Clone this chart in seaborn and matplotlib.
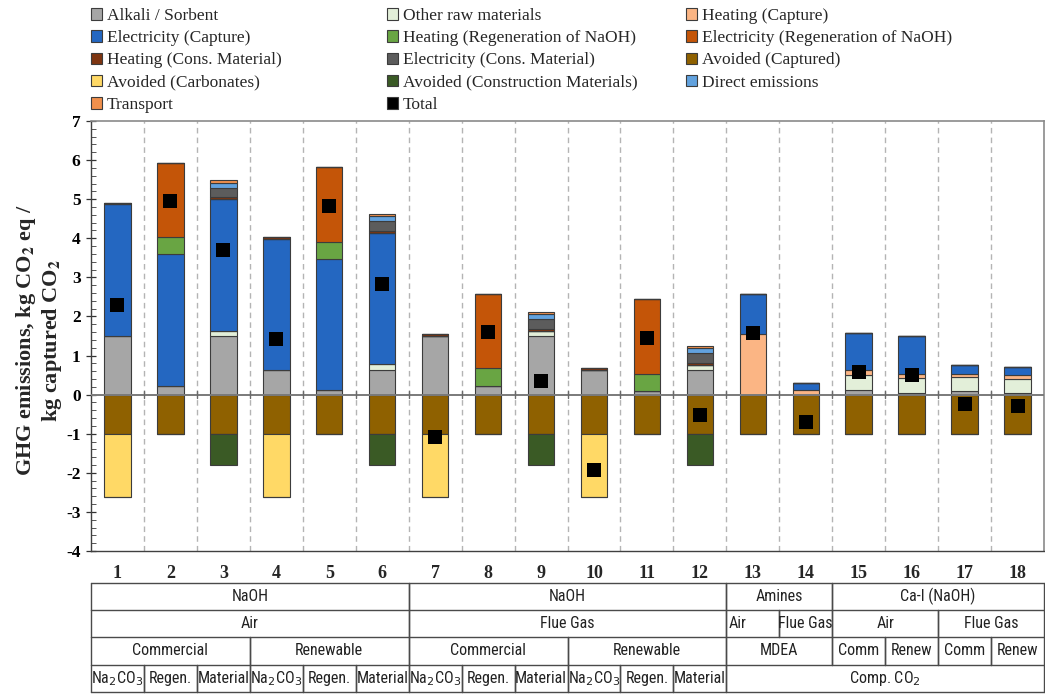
import matplotlib
matplotlib.use("Agg")
import matplotlib.pyplot as plt
import matplotlib.font_manager as fm
import seaborn as sns
from matplotlib.patches import Patch

# ---- data -----------------------------------------------------------------
scenarios = [str(i) for i in range(1, 19)]

alkali_sorbent   = [1.49, 0.22, 1.49, 0.62, 0.11, 0.62, 1.50, 0.23, 1.50, 0.63, 0.09, 0.62, 0.00, 0.00, 0.13, 0.04, 0.09, 0.04]
other_raw        = [0.00, 0.00, 0.15, 0.00, 0.00, 0.16, 0.00, 0.00, 0.14, 0.00, 0.00, 0.15, 0.00, 0.00, 0.38, 0.39, 0.35, 0.36]
heating_capture  = [0.00, 0.00, 0.00, 0.00, 0.00, 0.00, 0.00, 0.00, 0.00, 0.00, 0.00, 0.00, 1.56, 0.11, 0.11, 0.11, 0.10, 0.09]
elec_capture     = [3.38, 3.39, 3.36, 3.37, 3.35, 3.35, 0.00, 0.00, 0.00, 0.00, 0.00, 0.00, 1.01, 0.20, 0.96, 0.95, 0.22, 0.22]
heating_regen    = [0.00, 0.42, 0.00, 0.00, 0.44, 0.00, 0.00, 0.44, 0.00, 0.00, 0.45, 0.00, 0.00, 0.00, 0.00, 0.00, 0.00, 0.00]
elec_regen       = [0.00, 1.90, 0.00, 0.00, 1.92, 0.00, 0.00, 1.91, 0.00, 0.00, 1.90, 0.00, 0.00, 0.00, 0.00, 0.00, 0.00, 0.00]
heating_cons     = [0.04, 0.00, 0.05, 0.04, 0.00, 0.05, 0.04, 0.00, 0.05, 0.04, 0.00, 0.05, 0.00, 0.00, 0.00, 0.00, 0.00, 0.00]
elec_cons        = [0.00, 0.00, 0.24, 0.00, 0.00, 0.25, 0.00, 0.00, 0.24, 0.00, 0.00, 0.24, 0.00, 0.00, 0.00, 0.00, 0.00, 0.00]
direct_emissions = [0.00, 0.00, 0.13, 0.00, 0.00, 0.13, 0.00, 0.00, 0.13, 0.00, 0.00, 0.13, 0.00, 0.00, 0.00, 0.00, 0.00, 0.00]
transport        = [0.00, 0.00, 0.06, 0.00, 0.00, 0.06, 0.00, 0.00, 0.05, 0.00, 0.00, 0.05, 0.00, 0.00, 0.00, 0.00, 0.00, 0.00]

avoided_captured     = [-1.00] * 18
avoided_carbonates   = [-1.62, 0, 0, -1.62, 0, 0, -1.62, 0, 0, -1.62, 0, 0, 0, 0, 0, 0, 0, 0]
avoided_construction = [0, 0, -0.79, 0, 0, -0.79, 0, 0, -0.79, 0, 0, -0.79, 0, 0, 0, 0, 0, 0]

total = [2.30, 4.95, 3.70, 1.43, 4.82, 2.84, -1.08, 1.59, 0.34, -1.94, 1.46, -0.53, 1.58, -0.69, 0.58, 0.50, -0.24, -0.29]

# table rows under the chart: (first, last+1, text)
row_process  = [(0, 6, "NaOH"), (6, 12, "NaOH"), (12, 14, "Amines"), (14, 18, "Ca-I (NaOH)")]
row_source   = [(0, 6, "Air"), (6, 12, "Flue Gas"), (12, 13, "Air"), (13, 14, "Flue Gas"),
                (14, 16, "Air"), (16, 18, "Flue Gas")]
row_energy   = [(0, 3, "Commercial"), (3, 6, "Renewable"), (6, 9, "Commercial"), (9, 12, "Renewable"),
                (12, 14, "MDEA"), (14, 15, "Comm"), (15, 16, "Renew"), (16, 17, "Comm"), (17, 18, "Renew")]
product_names = ["Na$_2$CO$_3$", "Regen.", "Material"]
row_product  = [(g * 3 + k, g * 3 + k + 1, product_names[k]) for g in range(4) for k in range(3)] \
               + [(12, 18, "Comp. CO$_2$")]

# ---- styling ----------------------------------------------------------------
sns.set_style("ticks")
plt.rcParams["font.family"] = ["Liberation Serif", "DejaVu Serif"]
plt.rcParams["mathtext.fontset"] = "stix"
plt.rcParams["axes.unicode_minus"] = False


def narrow_sans():
    """Pick a condensed sans-serif face for the table, if one is installed."""
    best = None
    for f in fm.fontManager.ttflist:
        name = f.name.lower()
        narrow = ("narrow" in name or "condensed" in name
                  or str(f.stretch).lower() in ("condensed", "semi-condensed", "extra-condensed"))
        if narrow and "serif" not in name.replace("sans", "") and f.weight in (400, "normal", "regular") \
                and f.style == "normal":
            score = 0 if "liberation" in name else (1 if "roboto" in name else 2)
            if best is None or score < best[0]:
                best = (score, f.fname)
    if best:
        return fm.FontProperties(fname=best[1], size=11.5), True
    return fm.FontProperties(family=["Liberation Sans"], size=10), False


table_font, is_narrow = narrow_sans()

positive_layers = [
    ("Alkali / Sorbent", alkali_sorbent, "#a6a6a6"),
    ("Other raw materials", other_raw, "#e3efd9"),
    ("Heating (Capture)", heating_capture, "#fbb584"),
    ("Electricity (Capture)", elec_capture, "#2467c1"),
    ("Heating (Regeneration of NaOH)", heating_regen, "#69a543"),
    ("Electricity (Regeneration of NaOH)", elec_regen, "#c45508"),
    ("Heating (Cons. Material)", heating_cons, "#7e3511"),
    ("Electricity (Cons. Material)", elec_cons, "#5c5c5c"),
    ("Direct emissions", direct_emissions, "#62a2de"),
    ("Transport", transport, "#f0904c"),
]
negative_layers = [
    ("Avoided (Captured)", avoided_captured, "#8f6100"),
    ("Avoided (Carbonates)", avoided_carbonates, "#ffd966"),
    ("Avoided (Construction Materials)", avoided_construction, "#3a5a25"),
]
colors = {name: c for name, _, c in positive_layers + negative_layers}

fig = plt.figure(figsize=(10.45, 6.94), dpi=100)
W, H = 1045, 694
ax = fig.add_axes([91 / W, 1 - 551 / H, 953 / W, 430 / H])

# separators between scenarios
for b in range(17):
    ax.axvline(b + 0.5, color="#b4b4b4", lw=1.0, ls=(0, (4, 3)), zorder=0)

edge = dict(edgecolor="#3c3c3c", linewidth=0.8)


def stack(layers):
    base = [0.0] * 18
    for name, vals, col in layers:
        sns.barplot(x=scenarios, y=vals, bottom=base, order=scenarios, color=col,
                    saturation=1, width=0.5, errorbar=None, ax=ax, zorder=2, **edge)
        base = [b + v for b, v in zip(base, vals)]


stack(positive_layers)
stack(negative_layers)

ax.axhline(0, color="#7a7a7a", lw=1.4, zorder=3)
for b in range(17):
    ax.plot([b + 0.5, b + 0.5], [-0.09, 0.09], color="#6a6a6a", lw=1.0, zorder=3)

sns.scatterplot(x=list(range(18)), y=total, marker="s", s=95, color="black",
                edgecolor="black", linewidth=0, ax=ax, zorder=5, legend=False)

ax.set_xlim(-0.5, 17.5)
ax.set_ylim(-4, 7)
ax.set_yticks(range(-4, 8))
ax.set_yticks([v / 5 for v in range(-20, 36)], minor=True)
ax.tick_params(axis="y", which="major", direction="inout", length=7, width=0.9,
               labelsize=12.5, pad=4, colors="#333333", labelcolor="black")
ax.tick_params(axis="y", which="minor", direction="in", length=3.5, width=0.7, colors="#555555")
ax.set_xticks(range(18))
ax.set_xticklabels(scenarios)
ax.tick_params(axis="x", length=0, labelsize=13, pad=10)
for lab in ax.get_xticklabels() + ax.get_yticklabels():
    lab.set_fontweight("bold")
ax.set_xlabel("")
ax.set_ylabel("GHG emissions, kg CO$_\\mathbf{2}$ eq /\nkg captured CO$_\\mathbf{2}$",
              fontsize=16, fontweight="bold", linespacing=1.1)
ax.yaxis.set_label_coords(-27 / 953, 0.49)

for side in ("left", "bottom"):
    ax.spines[side].set_color("#404040")
    ax.spines[side].set_linewidth(1.0)
for side in ("top", "right"):
    ax.spines[side].set_visible(True)
    ax.spines[side].set_color("#8a8a8a")
    ax.spines[side].set_linewidth(1.2)

# ---- legend (three columns, row-wise order) ---------------------------------
legend_cols = [
    ["Alkali / Sorbent", "Electricity (Capture)", "Heating (Cons. Material)", "Avoided (Carbonates)", "Transport"],
    ["Other raw materials", "Heating (Regeneration of NaOH)", "Electricity (Cons. Material)",
     "Avoided (Construction Materials)", "Total"],
    ["Heating (Capture)", "Electricity (Regeneration of NaOH)", "Avoided (Captured)", "Direct emissions"],
]
colors["Total"] = "black"
for x0, names in zip([91, 387, 686], legend_cols):
    handles = [Patch(facecolor=colors[n], edgecolor="#3c3c3c", linewidth=0.8) for n in names]
    fig.legend(handles, names, loc="upper left", bbox_to_anchor=(x0 / W, 1 - 8 / H),
               frameon=False, fontsize=12.5, handlelength=0.65, handleheight=0.65,
               handletextpad=0.25, labelspacing=0.36, borderpad=0, borderaxespad=0)

# ---- classification table -----------------------------------------------
tax = fig.add_axes([91 / W, 1 - 692 / H, 953 / W, 109.5 / H])
tax.set_xlim(-0.5, 17.5)
tax.set_ylim(0, 4)
tax.axis("off")
line_kw = dict(color="#4a4a4a", lw=1.0, clip_on=False)
for yy in range(5):
    tax.plot([-0.5, 17.5], [yy, yy], **line_kw)
for r, row in enumerate([row_process, row_source, row_energy, row_product]):
    y_top, y_bot = 4 - r, 3 - r
    for i0, i1, text in row:
        tax.plot([i0 - 0.5, i0 - 0.5], [y_bot, y_top], **line_kw)
        tax.plot([i1 - 0.5, i1 - 0.5], [y_bot, y_top], **line_kw)
        if r == 1 and text == "Air" and i1 - i0 == 1:
            t = tax.text(i0 - 0.45, (y_top + y_bot) / 2, text, ha="left", va="center",
                         fontproperties=table_font, color="#222222")
        else:
            t = tax.text((i0 + i1 - 1) / 2, (y_top + y_bot) / 2, text, ha="center", va="center",
                         fontproperties=table_font, color="#222222")
        t.set_math_fontfamily("dejavusans")

fig.savefig("out.png", dpi=100)
